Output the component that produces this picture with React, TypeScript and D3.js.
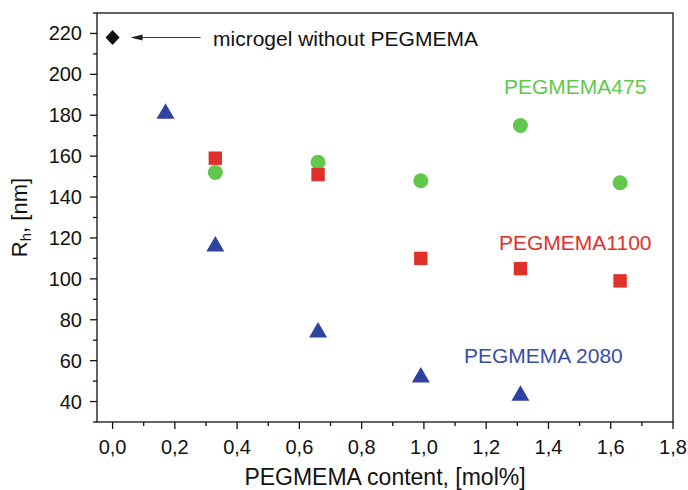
import React from "react";
import * as d3 from "d3";

// PEGMEMA content [mol%] per sample
const xPEG2080 = [0.17, 0.33, 0.66, 0.99, 1.31];
const yPEG2080 = [182, 117, 75, 53, 44];
const xPEG1100 = [0.33, 0.66, 0.99, 1.31, 1.63];
const yPEG1100 = [159, 151, 110, 105, 99];
const xPEG475 = [0.33, 0.66, 0.99, 1.31, 1.63];
const yPEG475 = [152, 157, 148, 175, 147];
const refX = [0.0];
const refY = [218];

const xTicks = [0, 0.2, 0.4, 0.6, 0.8, 1.0, 1.2, 1.4, 1.6, 1.8];
const xMinor = [0.1, 0.3, 0.5, 0.7, 0.9, 1.1, 1.3, 1.5, 1.7];
const yTicks = [40, 60, 80, 100, 120, 140, 160, 180, 200, 220];
const yMinor = [30, 50, 70, 90, 110, 130, 150, 170, 190, 210, 230];

const W = 688;
const H = 490;
const M = { left: 97, right: 673, top: 13, bottom: 422 };

const BLUE = "#2e42a0";
const RED = "#e0302a";
const GREEN = "#62c84c";
const FONT = "'Liberation Sans', Arial, Helvetica, sans-serif";

const fmt = (v: number) => v.toFixed(1).replace(".", ",");

export default function App() {
  const x = d3.scaleLinear().domain([-0.05, 1.8]).range([M.left, M.right]);
  const y = d3.scaleLinear().domain([30, 230]).range([M.bottom, M.top]);

  const tri = (cx: number, cy: number) =>
    `M${cx},${cy - 8}L${cx + 9},${cy + 7.5}L${cx - 9},${cy + 7.5}Z`;
  const diamond = (cx: number, cy: number) =>
    `M${cx},${cy - 7.5}L${cx + 7},${cy}L${cx},${cy + 7.5}L${cx - 7},${cy}Z`;

  const refPx = x(refX[0]);
  const refPy = y(refY[0]);

  return (
    <svg
      width={W}
      height={H}
      style={{ position: "absolute", left: 0, top: 0, background: "#fff" }}
      fontFamily={FONT}
    >
      {/* frame */}
      <rect
        x={M.left}
        y={M.top}
        width={M.right - M.left}
        height={M.bottom - M.top}
        fill="none"
        stroke="#111"
        strokeWidth={1.3}
      />

      {/* x axis ticks */}
      {xTicks.map((t) => (
        <g key={"xt" + t}>
          <line x1={x(t)} x2={x(t)} y1={M.bottom} y2={M.bottom + 7} stroke="#111" strokeWidth={1.3} />
          <text x={x(t)} y={454} fontSize={20} textAnchor="middle" fill="#111">
            {fmt(t)}
          </text>
        </g>
      ))}
      {xMinor.map((t) => (
        <line key={"xm" + t} x1={x(t)} x2={x(t)} y1={M.bottom} y2={M.bottom + 4} stroke="#111" strokeWidth={1.3} />
      ))}

      {/* y axis ticks */}
      {yTicks.map((t) => (
        <g key={"yt" + t}>
          <line x1={M.left - 7} x2={M.left} y1={y(t)} y2={y(t)} stroke="#111" strokeWidth={1.3} />
          <text x={82} y={y(t) + 7} fontSize={20} textAnchor="end" fill="#111">
            {t}
          </text>
        </g>
      ))}
      {yMinor.map((t) => (
        <line key={"ym" + t} x1={M.left - 4} x2={M.left} y1={y(t)} y2={y(t)} stroke="#111" strokeWidth={1.3} />
      ))}

      {/* axis titles */}
      <text x={(M.left + M.right) / 2} y={485} fontSize={23} textAnchor="middle" fill="#111">
        PEGMEMA content, [mol%]
      </text>
      <text
        transform={`translate(27,${(M.top + M.bottom) / 2}) rotate(-90)`}
        fontSize={22}
        textAnchor="middle"
        fill="#111"
      >
        R<tspan fontSize={15} dy={4}>h</tspan>
        <tspan dy={-4}>, [nm]</tspan>
      </text>

      {/* reference microgel */}
      {refX.map((v, i) => (
        <path key={"ref" + i} d={diamond(x(v), y(refY[i]))} fill="#111" />
      ))}
      <line x1={refPx + 28} x2={refPx + 88} y1={refPy} y2={refPy} stroke="#333" strokeWidth={1} />
      <path
        d={`M${refPx + 18},${refPy}L${refPx + 30},${refPy - 3}L${refPx + 30},${refPy + 3}Z`}
        fill="#222"
      />
      <text x={213} y={46} fontSize={21} fill="#111">
        microgel without PEGMEMA
      </text>

      {/* PEGMEMA475 */}
      {xPEG475.map((v, i) => (
        <circle key={"g" + i} cx={x(v)} cy={y(yPEG475[i])} r={7.5} fill={GREEN} />
      ))}
      {/* PEGMEMA1100 */}
      {xPEG1100.map((v, i) => (
        <rect
          key={"r" + i}
          x={x(v) - 6.7}
          y={y(yPEG1100[i]) - 6.7}
          width={13.4}
          height={13.4}
          fill={RED}
        />
      ))}
      {/* PEGMEMA 2080 */}
      {xPEG2080.map((v, i) => (
        <path key={"b" + i} d={tri(x(v), y(yPEG2080[i]))} fill={BLUE} />
      ))}

      {/* series labels */}
      <text x={504} y={94} fontSize={21} fill={GREEN}>
        PEGMEMA475
      </text>
      <text x={499} y={250} fontSize={21} fill={RED}>
        PEGMEMA1100
      </text>
      <text x={464} y={363} fontSize={21} fill="#3a4da6">
        PEGMEMA 2080
      </text>
    </svg>
  );
}
